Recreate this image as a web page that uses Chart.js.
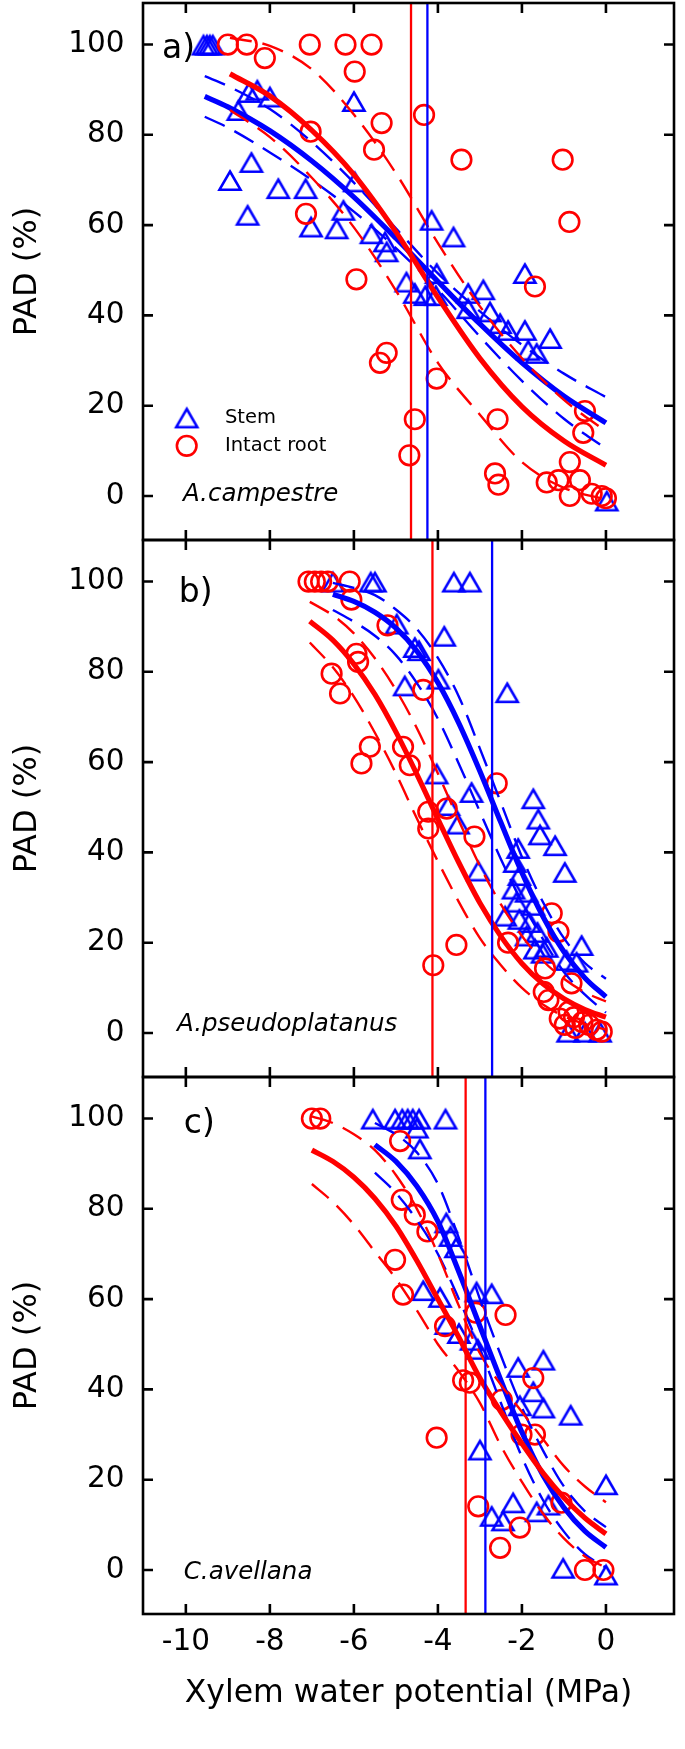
<!DOCTYPE html>
<html>
<head>
<meta charset="utf-8">
<script src="https://cdn.jsdelivr.net/npm/chart.js@4.4.1/dist/chart.umd.min.js"></script>
<style>
  html, body { margin: 0; padding: 0; background: #fff; }
  canvas { display: block; }
</style>
</head>
<body>
<canvas id="pad" width="685" height="1749"></canvas>
<script>
// PAD vs xylem water potential, three species stacked (a, b, c)

const X_TICKS = [-10, -8, -6, -4, -2, 0];
const Y_TICKS = [0, 20, 40, 60, 80, 100];

const LETTERS = ['a)', 'b)', 'c)'];
const SPECIES = ['A.campestre', 'A.pseudoplatanus', 'C.avellana'];
const LEGEND_LABELS = ['Stem', 'Intact root'];

// P50 lines (MPa): root / stem per panel
const P50_ROOT = [-4.64, -4.13, -3.34];
const P50_STEM = [-4.25, -2.71, -2.87];

// ---- panel a: A. campestre
const A_STEM = [
  [-9.58,100],[-9.5,100],[-9.43,100],[-9.36,100],
  [-8.75,85.5],[-8.5,89.5],[-8.3,90],[-8.0,88.5],[-6.0,87.5],
  [-8.44,74],[-8.95,70],[-8.53,62.3],[-7.8,68.2],[-7.15,68.2],[-7.02,59.7],[-6.41,59.3],
  [-6.25,63.4],[-5.98,69.7],[-5.58,58.2],[-5.26,56.4],[-5.22,54.2],[-4.75,47.5],
  [-4.15,61.2],[-3.63,57.5],[-4.03,49.4],[-4.55,45],[-4.3,44.5],[-4.05,44.5],
  [-3.28,45],[-2.92,45.8],[-3.28,41.6],[-2.76,40.9],[-2.52,38.3],[-2.33,36.8],[-1.93,36.8],
  [-1.93,49.4],[-1.33,35],[-1.85,32.4],[-1.65,31.7],[0.02,-1]
];
const A_ROOT = [
  [-9.0,100],[-8.55,100],[-8.12,97],[-7.05,100],[-6.2,100],[-5.58,100],[-5.98,94],
  [-5.34,82.6],[-5.52,76.7],[-7.03,80.7],[-7.14,62.5],[-5.94,48],
  [-4.33,84.4],[-3.44,74.5],[-1.03,74.5],[-0.87,60.7],[-1.69,46.4],
  [-5.22,31.7],[-5.38,29.5],[-4.03,26],[-4.55,17],[-4.68,9],[-2.58,17],[-2.64,5],[-2.56,2.5],
  [-0.5,18.8],[-0.54,14],[-0.86,7.5],[-1.41,3],[-1.13,3.5],[-0.62,3.5],[-0.86,0],[-0.34,0.5],
  [-0.1,0],[0,-0.5]
];
const A_STEM_X   = [-9.55, -9, -8, -7, -6, -5, -4, -3, -2, -1, 0];
const A_STEM_FIT = [88.5, 86.2, 80.9, 74.2, 66.2, 57.1, 47.5, 38.1, 29.5, 22.1, 16.2];
const A_STEM_HI  = [93, 90.8, 85.7, 78.4, 69.4, 59.3, 49.3, 40.9, 33.5, 27.1, 21.9];
const A_STEM_LO  = [84, 81.6, 76.1, 70, 63, 54.9, 45.7, 35.3, 25.5, 17.1, 10.5];
const A_ROOT_X   = [-8.95, -8, -7, -6, -5, -4, -3, -2, -1, 0];
const A_ROOT_FIT = [93.5, 88.6, 81, 71.2, 58.5, 44, 30.5, 19.8, 12.2, 6.8];
const A_ROOT_HI  = [101.5, 99.7, 94.5, 84.5, 71.5, 56, 42, 30.5, 21.3, 14.3];
const A_ROOT_LO  = [85.5, 79.5, 70.5, 59.5, 45.5, 29.5, 18, 7.5, 1.8, -0.8];

// ---- panel b: A. pseudoplatanus
const B_STEM = [
  [-6.5,100],[-5.6,100],[-5.5,100],[-3.62,100],[-3.24,100],
  [-4.98,90.7],[-4.55,85.5],[-4.45,84.8],[-3.85,88],[-4.79,77],[-3.99,78.5],[-2.35,75.5],
  [-4.03,57.5],[-3.2,53.4],[-3.75,50.5],[-3.52,46.4],[-3.04,36],
  [-1.73,52],[-1.61,47.5],[-1.57,44],[-1.21,41.6],[-0.98,35.7],[-2.09,41],
  [-2.17,37.9],[-2.06,35],[-2.2,32],[-1.89,31.3],[-2.13,29.1],[-1.73,28.4],[-2.4,26],
  [-2.06,25.3],[-1.82,24.6],[-1.63,22.4],[-1.89,21.6],[-1.41,19.1],[-1.69,18.7],
  [-0.58,19.5],[-0.7,15.8],[-0.94,16.2],[-1.51,17.8],[-0.9,0.3],[-0.5,0.3],[-0.14,0.3]
];
const B_ROOT = [
  [-7.08,100],[-6.93,100],[-6.78,100],[-6.62,100],[-6.1,100],[-6.06,96],[-5.2,90.3],
  [-5.94,84],[-5.9,82.2],[-6.53,79.6],[-6.33,75.2],[-4.35,76],[-5.62,63.4],[-5.82,59.7],
  [-4.83,63.4],[-4.67,59.3],[-4.23,49],[-4.23,45.3],[-3.79,49.7],[-4.11,15],[-3.56,19.5],
  [-3.13,43.5],[-2.6,55.3],[-2.33,20],[-1.29,26.5],[-1.13,22.4],[-1.45,14.3],[-0.82,11],
  [-1.48,9.1],[-1.37,7.3],[-1.1,3.2],[-0.98,1.8],[-0.76,3.5],[-0.56,2.4],[-0.4,1.8],
  [-0.73,1.1],[-0.22,0.7],[-0.1,0.3],[-0.89,4.7]
];
const B_STEM_X   = [-6.5, -6, -5.5, -5, -4.5, -4, -3.5, -3, -2.5, -2, -1.5, -1, -0.5, 0];
const B_STEM_FIT = [97.2, 95.6, 93.2, 89.7, 84.6, 77.6, 68.6, 58, 46.6, 35.5, 25.8, 18, 12.2, 8];
const B_STEM_HI  = [99.7, 98.6, 97, 93.8, 89.5, 83.1, 74.5, 63, 51, 39, 29, 21, 15.5, 12];
const B_STEM_LO  = [93.7, 91.1, 88, 83.7, 77.5, 69.6, 59.6, 49, 38.5, 29, 20.8, 13.5, 8.5, 4.5];
const B_ROOT_X   = [-7.05, -6.5, -6, -5.5, -5, -4.5, -4, -3.5, -3, -2.5, -2, -1.5, -1, -0.5, 0];
const B_ROOT_FIT = [91.2, 87, 81.7, 75, 66.7, 57.3, 47.4, 37.7, 28.8, 21.4, 15.4, 10.9, 7.6, 5.2, 3.5];
const B_ROOT_HI  = [95.5, 92.5, 88.5, 83, 76, 67.5, 57.5, 47, 37, 28.5, 21.5, 16, 12, 9, 7];
const B_ROOT_LO  = [86.5, 81, 74.5, 66.5, 57.5, 47.5, 38, 29, 21, 15, 10, 6.3, 3.7, 2, 0.7];

// ---- panel c: C. avellana
const C_STEM = [
  [-5.55,100],[-5.02,100],[-4.85,100],[-4.72,100],[-4.6,100],[-4.45,100],[-3.82,100],
  [-4.5,98],[-4.43,93.4],[-3.8,77],[-3.7,74],[-3.57,71.5],[-4.35,62],[-3.95,60.5],
  [-3.08,61.7],[-2.72,61.3],[-3.8,54.5],[-3.5,52.5],[-3.2,51],[-3.05,49],
  [-2.09,45],[-1.49,46.6],[-1.73,39.6],[-1.49,36],[-2.05,36.5],[-0.84,34.4],[-3.0,26.7],
  [0,19],[-2.21,15],[-2.72,12],[-2.45,11],[-1.65,13],[-1.37,14.5],[-1.02,0.5],[0,-1]
];
const C_ROOT = [
  [-7.0,100],[-6.8,100],[-4.9,95],[-4.86,82],[-4.55,78.7],[-4.25,75],[-5.02,68.7],
  [-4.83,61],[-3.83,54],[-2.39,56.5],[-3.1,57],[-3.4,42],[-3.24,41.5],[-1.73,42.5],
  [-2.48,37.7],[-4.03,29.3],[-2.01,30],[-1.69,30],[-3.04,14.1],[-2.05,9.4],[-2.52,4.9],
  [-1.06,14.9],[-0.5,0],[-0.06,0]
];
const C_STEM_X   = [-5.5, -5, -4.5, -4, -3.5, -3, -2.5, -2, -1.5, -1, -0.5, 0];
const C_STEM_FIT = [94.2, 90.5, 85, 77.2, 66, 54, 42, 30.5, 21, 13.8, 8.6, 5];
const C_STEM_HI  = [99, 96.5, 92.5, 85.5, 73.5, 60, 47.5, 36, 26.5, 18.5, 13, 9.5];
const C_STEM_LO  = [88, 83.5, 77.5, 70, 60, 49, 37, 25, 15.5, 8.5, 3.5, 0.5];
const C_ROOT_X   = [-7, -6.5, -6, -5.5, -5, -4.5, -4, -3.5, -3, -2.5, -2, -1.5, -1, -0.5, 0];
const C_ROOT_FIT = [93, 90.5, 87, 82.3, 76.2, 68.5, 60, 51.5, 42.5, 35, 28, 21.5, 16, 11.5, 8];
const C_ROOT_HI  = [100.5, 99, 96.5, 93, 87.5, 80, 70, 58.5, 48, 41, 35, 29, 23, 18.5, 15];
const C_ROOT_LO  = [85.5, 81.5, 76.5, 70.5, 64.5, 57.5, 50, 44, 37, 27.5, 19.5, 12.5, 7, 3, 0.5];

// ---- layout / style
const BLUE = '#0000ff';
const RED = '#ff0000';
const FONT = "'DejaVu Sans', 'Liberation Sans', sans-serif";
const X_MIN = -11.02, X_MAX = 1.62;
const Y_MIN = -9.75, Y_MAX = 109.2;
const TICK = 10;

// label anchors in data units of each panel
const LETTER_AT = [[-10.57, 99], [-10.17, 97.3], [-10.05, 98.8]];
const SPECIES_AT = [[-10.07, -1.2], [-10.21, 0.4], [-10.05, -2.1]];
const LEGEND_MARK_X = -9.98, LEGEND_TEXT_X = -9.07, LEGEND_ROWS = [17.4, 11.1];

const PANELS = [
  { id: 'ya', stem: A_STEM, root: A_ROOT,
    sx: A_STEM_X, sfit: A_STEM_FIT, shi: A_STEM_HI, slo: A_STEM_LO,
    rx: A_ROOT_X, rfit: A_ROOT_FIT, rhi: A_ROOT_HI, rlo: A_ROOT_LO },
  { id: 'yb', stem: B_STEM, root: B_ROOT,
    sx: B_STEM_X, sfit: B_STEM_FIT, shi: B_STEM_HI, slo: B_STEM_LO,
    rx: B_ROOT_X, rfit: B_ROOT_FIT, rhi: B_ROOT_HI, rlo: B_ROOT_LO },
  { id: 'yc', stem: C_STEM, root: C_ROOT,
    sx: C_STEM_X, sfit: C_STEM_FIT, shi: C_STEM_HI, slo: C_STEM_LO,
    rx: C_ROOT_X, rfit: C_ROOT_FIT, rhi: C_ROOT_HI, rlo: C_ROOT_LO },
];

// open triangle marker, centred on its bounding box like the original
const triMark = (() => {
  const c = document.createElement('canvas');
  c.width = 30; c.height = 28;
  const g = c.getContext('2d');
  g.strokeStyle = BLUE;
  g.lineWidth = 2.6;
  g.beginPath();
  g.moveTo(15, 5.5);
  g.lineTo(25.5, 23.7);
  g.lineTo(4.5, 23.7);
  g.closePath();
  g.stroke();
  return c;
})();

const pts = (arr) => arr.map(([x, y]) => ({ x, y }));
const curve = (xs, ys) => xs.map((x, i) => ({ x, y: ys[i] }));

function lineSet(data, yAxisID, color, width, dash) {
  return {
    data, yAxisID, xAxisID: 'x',
    showLine: true, fill: false,
    borderColor: color, borderWidth: width, borderDash: dash || [],
    pointRadius: 0, pointHoverRadius: 0,
    cubicInterpolationMode: 'monotone', tension: 0.4,
  };
}

function vline(xv, yAxisID, color) {
  return {
    data: [{ x: xv, y: Y_MIN }, { x: xv, y: Y_MAX }], yAxisID, xAxisID: 'x',
    showLine: true, fill: false, borderColor: color, borderWidth: 2.3,
    pointRadius: 0, pointHoverRadius: 0, tension: 0,
  };
}

const DASH = [22, 11];
const datasets = [];
PANELS.forEach((p, i) => {
  // first in the list is drawn on top
  datasets.push(vline(P50_ROOT[i], p.id, RED));
  datasets.push(vline(P50_STEM[i], p.id, BLUE));
  datasets.push(lineSet(curve(p.rx, p.rfit), p.id, RED, 5.2));
  datasets.push(lineSet(curve(p.rx, p.rhi), p.id, RED, 2.4, DASH));
  datasets.push(lineSet(curve(p.rx, p.rlo), p.id, RED, 2.4, DASH));
  datasets.push(lineSet(curve(p.sx, p.sfit), p.id, BLUE, 5.2));
  datasets.push(lineSet(curve(p.sx, p.shi), p.id, BLUE, 2.4, DASH));
  datasets.push(lineSet(curve(p.sx, p.slo), p.id, BLUE, 2.4, DASH));
  datasets.push({
    data: pts(p.root), yAxisID: p.id, xAxisID: 'x',
    pointStyle: 'circle', pointRadius: 9.8, pointHoverRadius: 9.8,
    borderColor: RED, backgroundColor: 'rgba(0,0,0,0)', borderWidth: 2.6,
  });
  datasets.push({
    data: pts(p.stem), yAxisID: p.id, xAxisID: 'x',
    pointStyle: triMark, pointRadius: 12, pointHoverRadius: 12,
    borderColor: BLUE, backgroundColor: 'rgba(0,0,0,0)',
  });
});

// keep tick-label overhang from pushing the plot area around
function noPad(s) {
  s.paddingTop = 0; s.paddingBottom = 0; s.paddingLeft = 0; s.paddingRight = 0;
}

function yScale(weight) {
  return {
    type: 'linear', position: 'left', stack: 'panels', stackWeight: 1, weight,
    min: Y_MIN, max: Y_MAX,
    afterBuildTicks: (s) => { s.ticks = Y_TICKS.map(v => ({ value: v })); },
    afterFit: (s) => { s.width = 143; noPad(s); },
    grid: { display: false, drawTicks: false },
    border: { display: false },
    ticks: { color: '#000', autoSkip: false, padding: 18.5,
             font: { family: FONT, size: 29.5 } },
    title: { display: true, text: 'PAD (%)', color: '#000',
             font: { family: FONT, size: 32 }, padding: { top: 8, bottom: 0 } },
  };
}

const framePlugin = {
  id: 'frames',
  afterDatasetsDraw(chart) {
    const { ctx, chartArea, scales } = chart;
    const xs = scales.x;
    ctx.save();
    ctx.strokeStyle = '#000';
    ctx.lineWidth = 2.6;
    for (const p of PANELS) {
      const ys = scales[p.id];
      ctx.strokeRect(chartArea.left, ys.top, chartArea.right - chartArea.left, ys.bottom - ys.top);
      ctx.beginPath();
      for (const v of Y_TICKS) {
        const py = ys.getPixelForValue(v);
        ctx.moveTo(chartArea.left, py); ctx.lineTo(chartArea.left + TICK, py);
        ctx.moveTo(chartArea.right, py); ctx.lineTo(chartArea.right - TICK, py);
      }
      for (const v of X_TICKS) {
        const px = xs.getPixelForValue(v);
        ctx.moveTo(px, ys.top); ctx.lineTo(px, ys.top + TICK);
        ctx.moveTo(px, ys.bottom); ctx.lineTo(px, ys.bottom - TICK);
      }
      ctx.stroke();
    }
    ctx.restore();
  },
  afterDraw(chart) {
    const { ctx, scales } = chart;
    const xs = scales.x;
    ctx.save();
    ctx.fillStyle = '#000';
    PANELS.forEach((p, i) => {
      const ys = scales[p.id];
      ctx.font = `33px ${FONT}`;
      ctx.textAlign = 'left';
      ctx.textBaseline = 'middle';
      ctx.fillText(LETTERS[i], xs.getPixelForValue(LETTER_AT[i][0]), ys.getPixelForValue(LETTER_AT[i][1]));
      ctx.font = `italic 24.5px ${FONT}`;
      ctx.textBaseline = 'alphabetic';
      ctx.fillText(SPECIES[i], xs.getPixelForValue(SPECIES_AT[i][0]), ys.getPixelForValue(SPECIES_AT[i][1]));
    });
    // legend in panel a
    const ya = scales.ya;
    const mx = xs.getPixelForValue(LEGEND_MARK_X);
    const tx = xs.getPixelForValue(LEGEND_TEXT_X);
    const r0 = ya.getPixelForValue(LEGEND_ROWS[0]);
    const r1 = ya.getPixelForValue(LEGEND_ROWS[1]);
    ctx.drawImage(triMark, mx - triMark.width / 2, r0 - triMark.height / 2);
    ctx.beginPath();
    ctx.strokeStyle = RED;
    ctx.lineWidth = 2.6;
    ctx.arc(mx, r1, 9.8, 0, Math.PI * 2);
    ctx.stroke();
    ctx.font = `19.5px ${FONT}`;
    ctx.textBaseline = 'middle';
    ctx.fillText(LEGEND_LABELS[0], tx, r0 + 1);
    ctx.fillText(LEGEND_LABELS[1], tx, r1);
    ctx.restore();
  },
};

new Chart(document.getElementById('pad'), {
  type: 'scatter',
  data: { datasets },
  options: {
    responsive: false,
    animation: false,
    events: [],
    layout: { autoPadding: false, padding: { top: 3, right: 11, bottom: 0, left: 0 } },
    plugins: { legend: { display: false }, tooltip: { enabled: false } },
    scales: {
      x: {
        type: 'linear', position: 'bottom', min: X_MIN, max: X_MAX,
        afterBuildTicks: (s) => { s.ticks = X_TICKS.map(v => ({ value: v })); },
        afterFit: (s) => { s.height = 135; noPad(s); },
        grid: { display: false, drawTicks: false },
        border: { display: false },
        ticks: { color: '#000', autoSkip: false, maxRotation: 0, padding: 11,
                 font: { family: FONT, size: 29.5 } },
        title: { display: true, text: 'Xylem water potential (MPa)', color: '#000',
                 font: { family: FONT, size: 31.5 }, padding: { top: 0, bottom: 36 } },
      },
      ya: yScale(3),
      yb: yScale(2),
      yc: yScale(1),
    },
  },
  plugins: [framePlugin],
});
</script>
</body>
</html>
